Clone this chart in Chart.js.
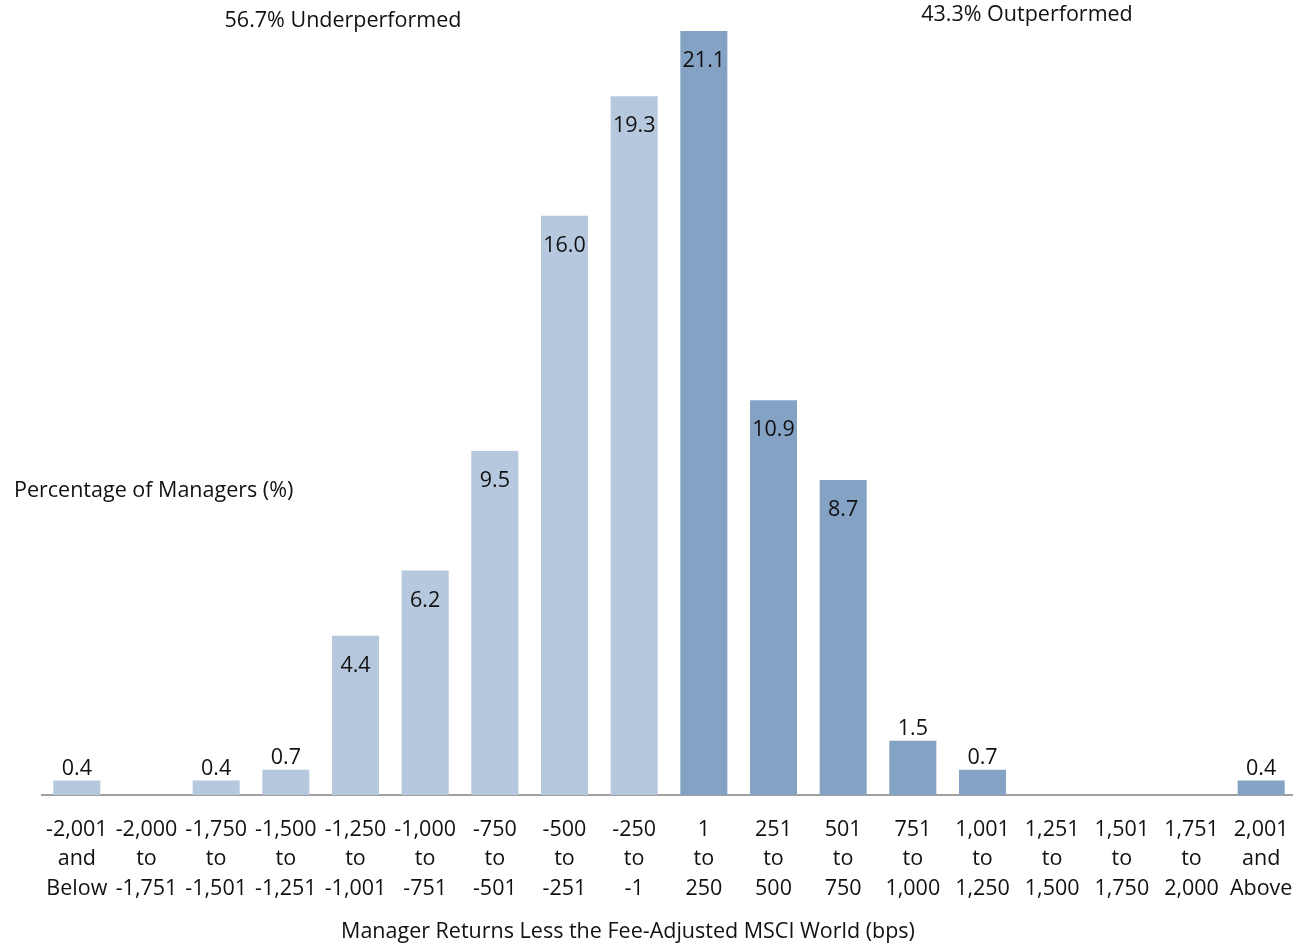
<!DOCTYPE html>
<html><head><meta charset="utf-8">
<script src="https://cdn.jsdelivr.net/npm/chart.js@4.4.0/dist/chart.umd.min.js"></script>
<style>html,body{margin:0;padding:0;background:#fff;overflow:hidden}#wrap{width:1293px;height:945px;position:relative;overflow:hidden}</style>
</head><body><div id="wrap"><canvas id="c" width="1296" height="945"></canvas></div>
<script>
const categories = [
  ["-2,001","and","Below"],["-2,000","to","-1,751"],["-1,750","to","-1,501"],["-1,500","to","-1,251"],
  ["-1,250","to","-1,001"],["-1,000","to","-751"],["-750","to","-501"],["-500","to","-251"],["-250","to","-1"],
  ["1","to","250"],["251","to","500"],["501","to","750"],["751","to","1,000"],["1,001","to","1,250"],
  ["1,251","to","1,500"],["1,501","to","1,750"],["1,751","to","2,000"],["2,001","and","Above"]
];
const values = [0.4, 0, 0.4, 0.7, 4.4, 6.2, 9.5, 16.0, 19.3, 21.1, 10.9, 8.7, 1.5, 0.7, 0, 0, 0, 0.4];
const underperformedCount = 9;
const underLabel = "56.7% Underperformed";
const outLabel = "43.3% Outperformed";
const yTitle = "Percentage of Managers (%)";
const xTitle = "Manager Returns Less the Fee-Adjusted MSCI World (bps)";

const FONT = "'Open Sans', sans-serif";
const FS = 21.5;
const lightBlue = '#b6c8dd', darkBlue = '#84a2c4';
const colors = values.map((v,i)=> i < underperformedCount ? lightBlue : darkBlue);

const labelPlugin = {
  id: 'labels',
  afterDatasetsDraw(chart) {
    const ctx = chart.ctx;
    const meta = chart.getDatasetMeta(0);
    ctx.save();
    ctx.font = FS + "px " + FONT;
    ctx.fillStyle = '#111';
    ctx.textAlign = 'center';
    ctx.textBaseline = 'middle';
    meta.data.forEach((bar, i) => {
      const v = values[i];
      if (!v) return;
      const y = v >= 4 ? bar.y + 30 : bar.y - 12;
      ctx.fillText(v.toFixed(1), bar.x, y);
    });
    ctx.fillText(underLabel, 343, 21);
    ctx.fillText(outLabel, 1027, 15);
    ctx.fillText(xTitle, 628, 932);
    ctx.textAlign = 'left';
    ctx.fillText(yTitle, 14, 491);
    ctx.restore();
  }
};

new Chart(document.getElementById('c'), {
  type: 'bar',
  data: {
    labels: categories,
    datasets: [{
      data: values,
      backgroundColor: colors,
      borderWidth: 0,
      barPercentage: 0.675,
      categoryPercentage: 1.0
    }]
  },
  options: {
    responsive: false,
    animation: false,
    layout: { padding: { left: 42, right: 0, top: 31, bottom: 0 } },
    plugins: { legend: { display: false }, tooltip: { enabled: false } },
    scales: {
      y: { display: false, min: 0, max: 21.1 },
      x: {
        afterFit(scale) { scale.height = 150; scale.paddingLeft = 0; scale.paddingRight = 0; },
        grid: { display: false, drawTicks: false },
        border: { display: true, color: '#a0a0a0', width: 2 },
        ticks: {
          color: '#111',
          font: { family: FONT, size: FS, lineHeight: 1.372 },
          padding: 20,
          maxRotation: 0,
          autoSkip: false
        }
      }
    }
  },
  plugins: [labelPlugin]
});
</script></body></html>
